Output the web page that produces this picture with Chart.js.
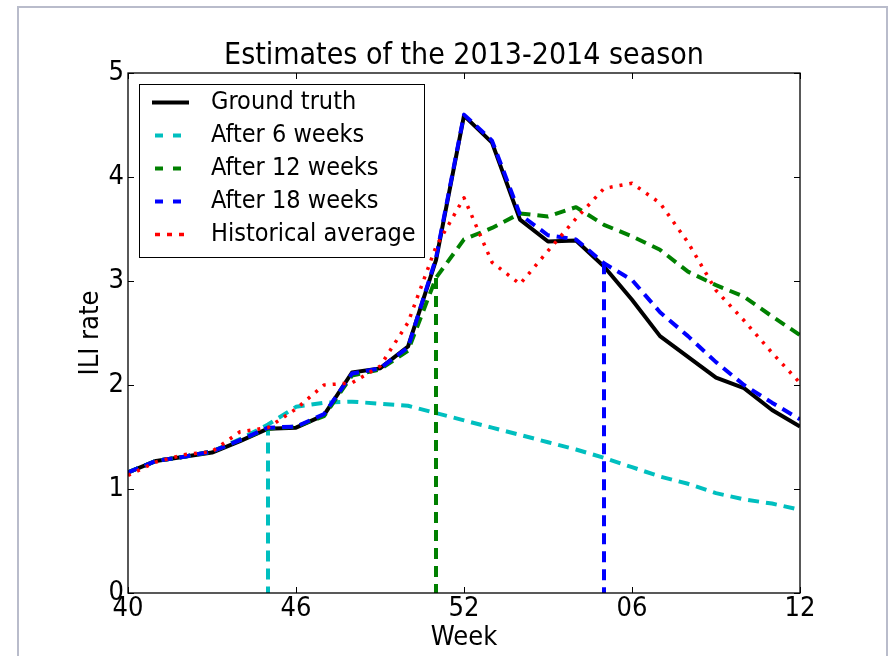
<!DOCTYPE html>
<html>
<head>
<meta charset="utf-8">
<script src="https://cdn.jsdelivr.net/npm/chart.js@4.4.1/dist/chart.umd.min.js"></script>
<style>
  html, body { margin: 0; padding: 0; background: #fff; }
  #frame { position: absolute; left: 17px; top: 6px; width: 871px; height: 720px;
           box-sizing: border-box; border: 2px solid #b9bccb; }
  #c { position: absolute; left: 0; top: 0; }
</style>
</head>
<body>
<div id="frame"></div>
<canvas id="c" width="889" height="656"></canvas>
<script>
// weeks of the 2013-2014 season
const weeks = ["40","41","42","43","44","45","46","47","48","49","50","51","52",
               "01","02","03","04","05","06","07","08","09","10","11","12"];
const tickWeeks = ["40", "46", "52", "06", "12"];
const cutWeeks = ["45", "51", "05"]; // where each estimate was made

const truth   = [1.16,1.27,1.31,1.35,1.46,1.58,1.59,1.71,2.12,2.16,2.37,3.20,4.59,4.33,3.59,3.38,3.39,3.14,2.82,2.47,2.27,2.07,1.97,1.76,1.60];
const after6  = [1.16,1.27,1.31,1.36,1.48,1.62,1.79,1.83,1.84,1.82,1.80,1.73,1.66,1.59,1.52,1.45,1.38,1.30,1.21,1.12,1.05,0.96,0.90,0.86,0.80];
const after12 = [1.16,1.27,1.31,1.36,1.47,1.58,1.60,1.70,2.09,2.15,2.33,3.03,3.40,3.51,3.65,3.62,3.71,3.54,3.43,3.30,3.09,2.96,2.85,2.66,2.48];
const after18 = [1.16,1.27,1.31,1.36,1.47,1.59,1.60,1.72,2.11,2.16,2.36,3.22,4.60,4.35,3.64,3.44,3.40,3.17,3.01,2.70,2.47,2.22,2.00,1.83,1.67];
const histAvg = [1.13,1.26,1.33,1.36,1.55,1.59,1.77,2.00,2.02,2.18,2.60,3.33,3.80,3.18,2.97,3.29,3.60,3.89,3.94,3.75,3.37,2.91,2.62,2.31,2.02];

const yTicks = [0, 1, 2, 3, 4, 5];

const FONT = "'DejaVu Sans Condensed', 'DejaVu Sans', sans-serif";
const DASH = [11, 7];
const DOT = [3, 7];

function line(label, data, color, dash, order) {
    return { label, data, borderColor: color, borderWidth: dash === DOT ? 3.5 : 4, borderDash: dash,
             pointRadius: 0, fill: false, tension: 0, clip: 0, order,
             borderJoinStyle: "round", borderCapStyle: "butt", inLegend: true };
}

function drop(week, series, color, order) {
    const i = weeks.indexOf(week);
    return { data: [{ x: week, y: series[i] }, { x: week, y: 0 }], borderColor: color,
             borderWidth: 4, borderDash: DASH, pointRadius: 0, clip: 0, order,
             borderCapStyle: "butt", inLegend: false };
}

// matplotlib-like box: frame, inward ticks, legend in the upper left
const boxPlugin = {
    id: "boxPlugin",
    afterDraw(chart) {
        const ctx = chart.ctx;
        const a = chart.chartArea;
        const xs = chart.scales.x, ys = chart.scales.y;
        ctx.save();
        ctx.strokeStyle = "#000";
        ctx.lineWidth = 1.3;
        ctx.setLineDash([]);
        ctx.strokeRect(a.left, a.top, a.right - a.left, a.bottom - a.top);

        ctx.lineWidth = 1;
        ctx.beginPath();
        tickWeeks.forEach(w => {
            const px = Math.round(xs.getPixelForValue(weeks.indexOf(w))) + 0.5;
            ctx.moveTo(px, a.bottom); ctx.lineTo(px, a.bottom - 6);
            ctx.moveTo(px, a.top); ctx.lineTo(px, a.top + 6);
        });
        yTicks.forEach(v => {
            const py = Math.round(ys.getPixelForValue(v)) + 0.5;
            ctx.moveTo(a.left, py); ctx.lineTo(a.left + 6, py);
            ctx.moveTo(a.right, py); ctx.lineTo(a.right - 6, py);
        });
        ctx.stroke();

        // legend
        const lx = 139.5, ly = 84.5;
        ctx.fillStyle = "#fff";
        ctx.fillRect(lx, ly, 285, 173);
        ctx.strokeStyle = "#000";
        ctx.lineWidth = 1;
        ctx.strokeRect(lx, ly, 285, 173);
        ctx.font = "25px " + FONT;
        ctx.textBaseline = "middle";
        ctx.textAlign = "left";
        chart.data.datasets.filter(d => d.inLegend).forEach((d, k) => {
            const y = 102.5 + k * 33;
            ctx.strokeStyle = d.borderColor;
            ctx.lineWidth = d.borderWidth;
            ctx.lineCap = "butt";
            if (d.borderDash === DOT) {
                ctx.setLineDash([5, 7]);
                ctx.lineDashOffset = -3;
            } else if (d.borderDash.length) {
                ctx.setLineDash([8, 10]);
                ctx.lineDashOffset = 15;
            } else {
                ctx.setLineDash([]);
            }
            ctx.beginPath();
            ctx.moveTo(152, y);
            ctx.lineTo(189, y);
            ctx.stroke();
            ctx.setLineDash([]);
            ctx.fillStyle = "#000";
            ctx.fillText(d.label, 211, y);
        });
        ctx.restore();
    }
};

const chart = new Chart(document.getElementById("c"), {
    type: "line",
    data: {
        labels: weeks,
        datasets: [
            line("Ground truth", truth, "#000000", [], 6),
            line("After 6 weeks", after6, "#00bfbf", DASH, 5),
            line("After 12 weeks", after12, "#008000", DASH, 4),
            line("After 18 weeks", after18, "#0000ff", DASH, 3),
            line("Historical average", histAvg, "#ff0000", DOT, 1),
            drop(cutWeeks[0], after6, "#00bfbf", 5),
            drop(cutWeeks[1], after12, "#008000", 4),
            drop(cutWeeks[2], after18, "#0000ff", 3)
        ]
    },
    options: {
        responsive: false,
        animation: false,
        layout: { padding: { left: 0, right: 89, top: 0, bottom: 0 } },
        plugins: {
            legend: { display: false },
            tooltip: { enabled: false },
            title: {
                display: true,
                text: "Estimates of the 2013-2014 season",
                color: "#000",
                fullSize: false,
                font: { family: FONT, size: 30, weight: "normal" },
                padding: { top: 38, bottom: -1 }
            }
        },
        scales: {
            x: {
                type: "category",
                grid: { display: false, drawTicks: false },
                border: { display: false },
                ticks: {
                    autoSkip: false, maxRotation: 0, padding: 0, color: "#000",
                    font: { family: FONT, size: 27 },
                    callback: (v, i) => tickWeeks.includes(weeks[i]) ? weeks[i] : null
                },
                title: { display: true, text: "Week", color: "#000",
                         font: { family: FONT, size: 27 }, padding: { top: 0, bottom: 2 } },
                afterFit(s) { s.height = 63; }
            },
            y: {
                min: 0, max: 5,
                grid: { display: false, drawTicks: false },
                border: { display: false },
                ticks: { stepSize: 1, padding: 4, color: "#000", font: { family: FONT, size: 27 } },
                title: { display: true, text: "ILI rate", color: "#000",
                         font: { family: FONT, size: 27 }, padding: { top: 74.8, bottom: 0 } },
                afterFit(s) { s.width = 128; }
            }
        }
    },
    plugins: [boxPlugin]
});
</script>
</body>
</html>
